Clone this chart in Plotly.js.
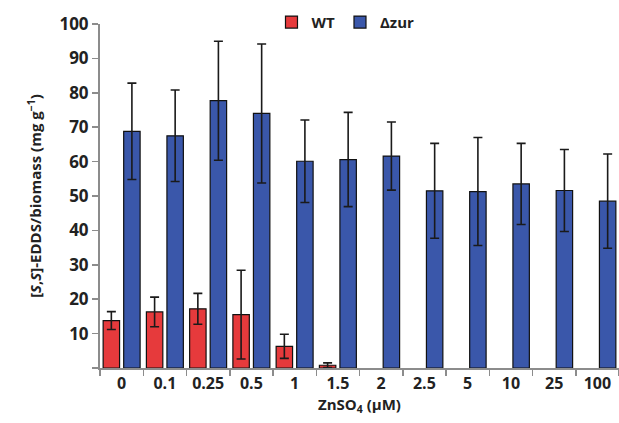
<!DOCTYPE html>
<html>
<head>
<meta charset="utf-8">
<script src="https://cdn.plot.ly/plotly-3.0.1.min.js"></script>
<style>html,body{margin:0;padding:0;background:#fff;}#chart{width:619px;height:423px;}</style>
</head>
<body>
<div id="chart"></div>
<script>
var categories = ['0', '0.1', '0.25', '0.5', '1', '1.5', '2', '2.5', '5', '10', '25', '100'];
var wtValues = [13.8, 16.3, 17.2, 15.5, 6.3, 0.8, 0, 0, 0, 0, 0, 0];
var wtErrors = [2.6, 4.3, 4.5, 12.9, 3.5, 0.7, 0, 0, 0, 0, 0, 0];
var zurValues = [68.8, 67.5, 77.7, 74.0, 60.1, 60.6, 61.6, 51.5, 51.3, 53.5, 51.6, 48.5];
var zurErrors = [14.0, 13.3, 17.3, 20.2, 12.0, 13.7, 9.9, 13.8, 15.7, 11.8, 11.9, 13.7];
var yTickVals = [0, 10, 20, 30, 40, 50, 60, 70, 80, 90, 100];
var yTickText = ['', '10', '20', '30', '40', '50', '60', '70', '80', '90', '100'];

var fontFam = '"Open Sans", sans-serif';
var errStyle = {type: 'data', visible: true, color: '#1a1a1a', thickness: 1.6, width: 4.5};

// zero values are drawn as no bar at all (as in the reference)
var wtShown = wtValues.map(function(v){ return v > 0 ? v : null; });
var wtErr = Object.assign({}, errStyle, {array: wtErrors.map(function(e, i){ return wtValues[i] > 0 ? e : null; })});
var zurErr = Object.assign({}, errStyle, {array: zurErrors});

var traces = [
  {type: 'bar', name: 'WT', x: categories, y: wtShown, error_y: wtErr,
   marker: {color: '#E63A3C', line: {color: '#111', width: 1.2}}},
  {type: 'bar', name: 'Δzur', x: categories, y: zurValues, error_y: zurErr,
   marker: {color: '#3A57AA', line: {color: '#111', width: 1.2}}}
];

var boldFont = function(sz){ return {family: fontFam, size: sz, color: '#222', weight: 'bold'}; };

var layout = {
  width: 619, height: 423,
  margin: {l: 100, r: 0, t: 24, b: 55, pad: 0},
  paper_bgcolor: '#fff', plot_bgcolor: '#fff',
  barmode: 'group', bargap: 0.05, bargroupgap: 0.2,
  font: {family: fontFam, color: '#222', size: 14},
  showlegend: true,
  legend: {orientation: 'h', x: 0.473, xanchor: 'center', y: 1.005, yanchor: 'middle',
           font: boldFont(15), itemwidth: 30, tracegroupgap: 0, bgcolor: 'rgba(0,0,0,0)'},
  xaxis: {
    type: 'category', range: [-0.5, 11.5],
    showline: true, linecolor: '#8c8c8c', linewidth: 2,
    ticks: 'outside', tickson: 'boundaries', ticklen: 6, tickcolor: '#8c8c8c', tickwidth: 1.5,
    tickfont: boldFont(16),
    showgrid: false, zeroline: false,
    title: {text: 'ZnSO<sub>4</sub> (μM)', font: boldFont(15), standoff: 6}
  },
  yaxis: {
    range: [0, 100], tickmode: 'array', tickvals: yTickVals, ticktext: yTickText,
    showline: true, linecolor: '#8c8c8c', linewidth: 2,
    ticks: 'outside', ticklen: 6, tickcolor: '#8c8c8c', tickwidth: 1.5,
    tickfont: boldFont(17),
    showgrid: false, zeroline: false,
    title: {text: '[<i>S</i>,<i>S</i>]-EDDS/biomass (mg g<sup>−1</sup>)', font: boldFont(15), standoff: 14}
  }
};

Plotly.newPlot('chart', traces, layout, {displayModeBar: false, staticPlot: true});
</script>
</body>
</html>
